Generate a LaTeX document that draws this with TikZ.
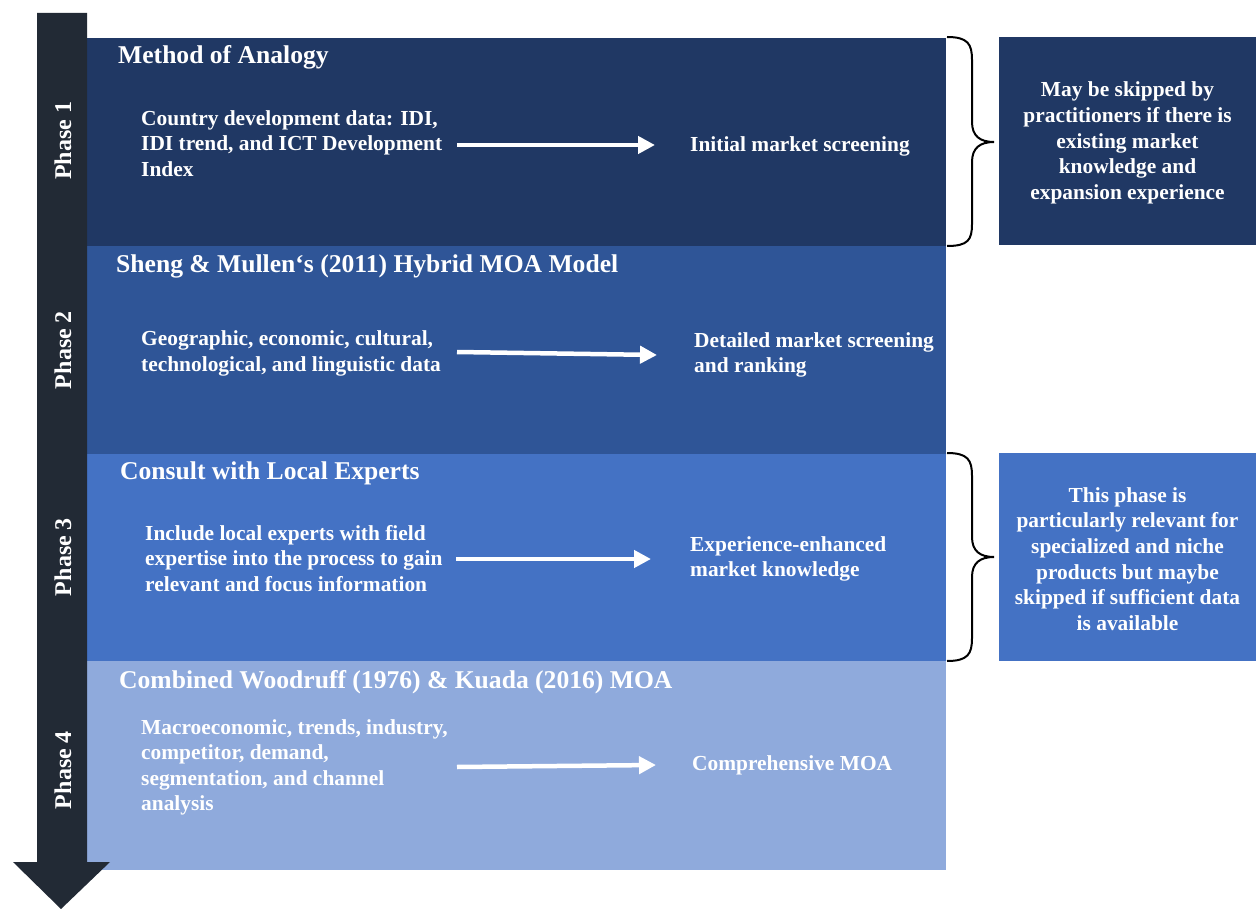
\documentclass[tikz,border=0pt]{standalone}
\usepackage{fontspec}
\setmainfont{Liberation Serif}
\usetikzlibrary{arrows.meta}
\definecolor{pone}{HTML}{203864}
\definecolor{ptwo}{HTML}{2F5597}
\definecolor{pthree}{HTML}{4472C4}
\definecolor{pfour}{HTML}{8FAADC}
\definecolor{shaft}{HTML}{222A35}
\begin{document}
\begin{tikzpicture}[x=1pt,y=-1pt,
  title/.style={anchor=base west, inner sep=0, text=white, font=\bfseries\fontsize{25.6}{29}\selectfont},
  body/.style={anchor=west, align=left, inner sep=0, text=white, font=\bfseries\fontsize{21.4}{25.5}\selectfont},
  notebox/.style={align=center, inner sep=0, text=white, minimum width=257pt, minimum height=208pt, font=\bfseries\fontsize{21.4}{25.7}\selectfont},
  phaselbl/.style={rotate=90, inner sep=0, text=white, font=\bfseries\fontsize{24}{28}\selectfont},
  flow/.style={draw=white, line width=4.5pt, -{Triangle[length=17pt,width=17pt]}},
  bracepath/.style={draw=black, line width=2pt}]
\useasboundingbox[fill=white] (0,0) rectangle (1256,909);
% panels
\fill[pone] (87,38) rectangle (946,246);
\fill[ptwo] (87,246) rectangle (946,454);
\fill[pthree] (87,454) rectangle (946,661);
\fill[pfour] (87,661) rectangle (946,870);
% big arrow
\fill[shaft] (37,13) -- (87,13) -- (87,862) -- (110,862) -- (61,909) -- (13,862) -- (37,862) -- cycle;
% phase labels
\node[phaselbl] (ph1) at (63,141) {Phase 1};
\node[phaselbl] (ph2) at (63,350) {Phase 2};
\node[phaselbl] (ph3) at (63,557) {Phase 3};
\node[phaselbl] (ph4) at (63,770) {Phase 4};
% titles
\node[title] (t1) at (118,64) {Method of Analogy};
\node[title] (t2) at (116,273) {Sheng \& Mullen‘s (2011) Hybrid MOA Model};
\node[title] (t3) at (120,479) {Consult with Local Experts};
\node[title] (t4) at (119,688) {Combined Woodruff (1976) \& Kuada (2016) MOA};
% phase 1
\node[body] (in1) at (141,143.5) {Country development data: IDI,\\IDI trend, and ICT Development\\Index};
\node[body] (out1) at (690,146) {Initial market screening};
\coordinate (s1) at (457,145);
\coordinate (e1) at (655,145);
\draw[flow] (s1) -- (e1);
% phase 2
\node[body] (in2) at (141,353.5) {Geographic, economic, cultural,\\technological, and linguistic data};
\node[body] (out2) at (694,355) {Detailed market screening\\and ranking};
\coordinate (s2) at (457,352);
\coordinate (e2) at (657,355);
\draw[flow] (s2) -- (e2);
% phase 3
\node[body] (in3) at (145,558.5) {Include local experts with field\\expertise into the process to gain\\relevant and focus information};
\node[body] (out3) at (690,559) {Experience-enhanced\\market knowledge};
\coordinate (s3) at (456,559);
\coordinate (e3) at (651,559);
\draw[flow] (s3) -- (e3);
% phase 4
\node[body] (in4) at (141,767.5) {Macroeconomic, trends, industry,\\competitor, demand,\\segmentation, and channel\\analysis};
\node[body] (out4) at (692,765) {Comprehensive MOA};
\coordinate (s4) at (457,767);
\coordinate (e4) at (656,765);
\draw[flow] (s4) -- (e4);
% notes
\node[notebox, fill=pone] (n1) at (1127.5,141) {};
\node[text=white, align=center, inner sep=0, font=\bfseries\fontsize{21.4}{25.7}\selectfont] (n1txt) at (1127.5,143) {May be skipped by\\practitioners if there is\\existing market\\knowledge and\\expansion experience};
\node[notebox, fill=pthree] (n2) at (1127.5,557) {};
\node[text=white, align=center, inner sep=0, font=\bfseries\fontsize{21.4}{25.7}\selectfont] (n2txt) at (1127.5,559) {This phase is\\particularly relevant for\\specialized and niche\\products but maybe\\skipped if sufficient data\\is available};
% braces
\draw[bracepath] (947,37) .. controls (968,37) and (972,44) .. (972,60) -- (972,122) .. controls (972,136) and (980,142) .. (994,142) .. controls (980,142) and (972,148) .. (972,162) -- (972,224) .. controls (972,240) and (968,246) .. (947,246);
\draw[bracepath] (947,453) .. controls (968,453) and (972,460) .. (972,476) -- (972,537) .. controls (972,551) and (980,557) .. (994,557) .. controls (980,557) and (972,563) .. (972,577) -- (972,638) .. controls (972,654) and (968,661) .. (947,661);
\end{tikzpicture}
\end{document}
